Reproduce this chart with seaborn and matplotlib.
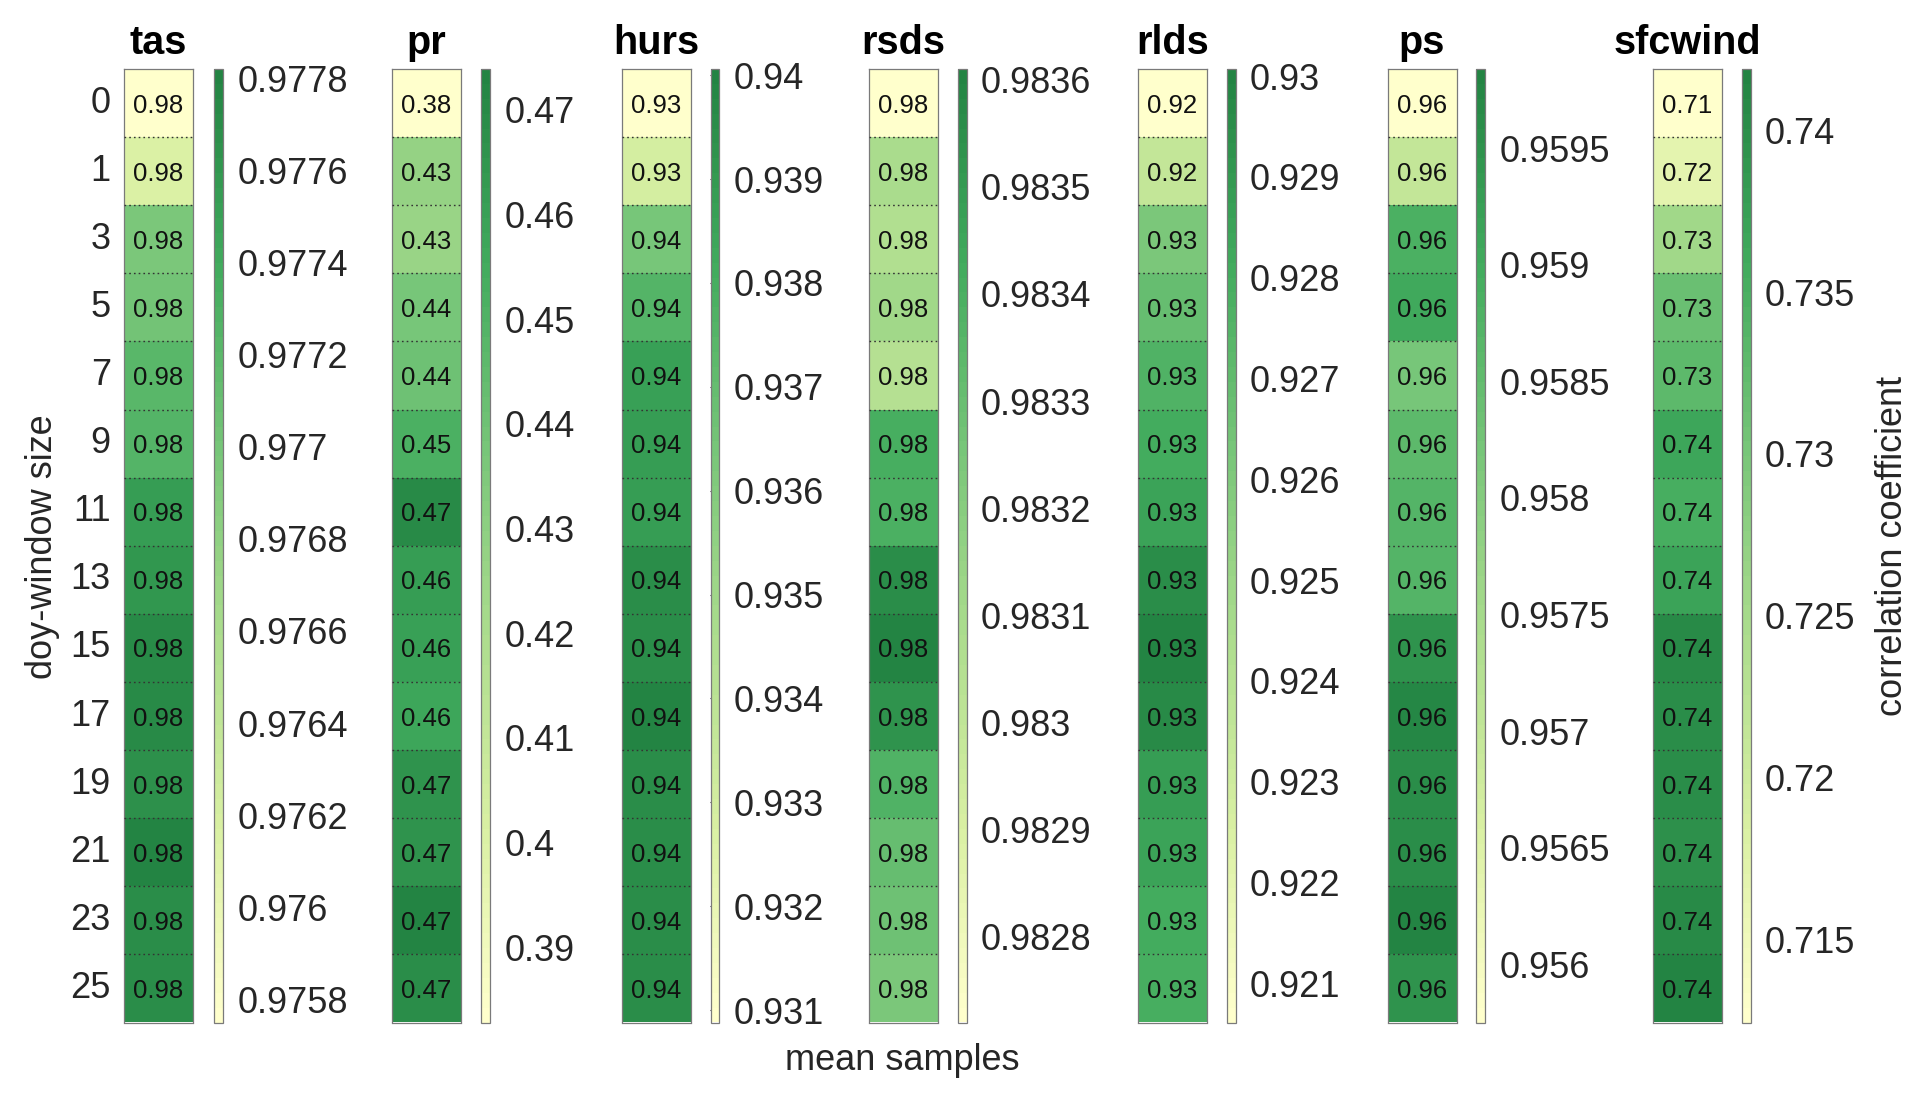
import numpy as np
import pandas as pd
import seaborn as sns
import matplotlib.pyplot as plt
from matplotlib.colors import LinearSegmentedColormap

# doy-window sizes (rows)
sizes = [0, 1, 3, 5, 7, 9, 11, 13, 15, 17, 19, 21, 23, 25]
variables = ["tas", "pr", "hurs", "rsds", "rlds", "ps", "sfcwind"]

# correlation coefficients
tas = [0.97575, 0.97616, 0.97695, 0.97704, 0.97723, 0.97725, 0.97755,
       0.97761, 0.97773, 0.97775, 0.97769, 0.97782, 0.97771, 0.97772]
pr = [0.3828, 0.428, 0.426, 0.438, 0.441, 0.452, 0.470,
      0.462, 0.460, 0.458, 0.466, 0.466, 0.4739, 0.469]
hurs = [0.93088, 0.93290, 0.93639, 0.93749, 0.93868, 0.93877, 0.93887,
        0.93960, 0.93951, 0.94006, 0.93951, 0.93955, 0.93951, 0.93955]
rsds = [0.98272, 0.98309, 0.98306, 0.98311, 0.98305, 0.98341, 0.98340,
        0.98356, 0.98361, 0.98354, 0.98338, 0.98331, 0.98329, 0.98324]
rlds = [0.92061, 0.92345, 0.92610, 0.92685, 0.92761, 0.92808, 0.92856,
        0.92950, 0.93007, 0.92969, 0.92884, 0.92846, 0.92808, 0.92799]
ps = [0.95575, 0.95698, 0.95886, 0.95902, 0.95820, 0.95861, 0.95869,
      0.95870, 0.95951, 0.95972, 0.95964, 0.95959, 0.95984, 0.95951]
sfcwind = [0.71242, 0.7168, 0.7254, 0.7316, 0.7328, 0.7366, 0.7352,
           0.7369, 0.7407, 0.7401, 0.7401, 0.7400, 0.7407, 0.7419]
values = [tas, pr, hurs, rsds, rlds, ps, sfcwind]

# colorbar ticks per panel
tas_ticks = [0.9758, 0.976, 0.9762, 0.9764, 0.9766, 0.9768, 0.977, 0.9772, 0.9774, 0.9776, 0.9778]
pr_ticks = [0.39, 0.40, 0.41, 0.42, 0.43, 0.44, 0.45, 0.46, 0.47]
hurs_ticks = [0.931, 0.932, 0.933, 0.934, 0.935, 0.936, 0.937, 0.938, 0.939, 0.94]
rsds_ticks = [0.9828, 0.9829, 0.983, 0.9831, 0.9832, 0.9833, 0.9834, 0.9835, 0.9836]
rlds_ticks = [0.921, 0.922, 0.923, 0.924, 0.925, 0.926, 0.927, 0.928, 0.929, 0.93]
ps_ticks = [0.956, 0.9565, 0.957, 0.9575, 0.958, 0.9585, 0.959, 0.9595]
sfcwind_ticks = [0.715, 0.72, 0.725, 0.73, 0.735, 0.74]
ticks = [tas_ticks, pr_ticks, hurs_ticks, rsds_ticks, rlds_ticks, ps_ticks, sfcwind_ticks]

sns.set_theme(style="white")
plt.rcParams["font.family"] = ["Liberation Sans", "DejaVu Sans"]

W, H = 1927, 1107
fig = plt.figure(figsize=(W / 100, H / 100), dpi=100)

cmap = LinearSegmentedColormap.from_list(
    "ylgn", ["#ffffcc", "#d9f0a3", "#addd8e", "#78c679", "#41ab5d", "#238443"], N=64)

hm_left = [124, 392, 622, 869, 1138, 1387.5, 1653]
cb_left = [214, 481, 710.5, 957.5, 1226.5, 1476, 1741.5]
top, bottom = 69, 1022.5
txt = "#262626"

for i, name in enumerate(variables):
    ax = fig.add_axes([hm_left[i] / W, 1 - bottom / H, 69 / W, (bottom - top) / H])
    cax = fig.add_axes([cb_left[i] / W, 1 - bottom / H, 9 / W, (bottom - top) / H])
    df = pd.DataFrame({name: values[i]}, index=sizes)
    sns.heatmap(df, ax=ax, cbar_ax=cax, cmap=cmap,
                vmin=min(values[i]), vmax=max(values[i]),
                annot=True, fmt=".2f",
                annot_kws={"size": 18.5, "color": "#111111", "va": "center_baseline"},
                xticklabels=False, yticklabels=(i == 0),
                cbar_kws={"ticks": ticks[i]})
    ax.set_ylabel("")
    ax.set_title(name, fontsize=28.5, fontweight="bold", color="black", pad=11)
    # dotted separators between cells
    ax.set_axisbelow(False)
    ax.set_yticks(np.arange(1, len(sizes)), minor=True)
    ax.grid(which="minor", axis="y", ls=(0, (1.2, 2.2)), color="#333333", lw=1.0)
    ax.tick_params(which="both", length=0)
    ax.tick_params(axis="y", pad=9.5, labelsize=26, labelcolor=txt, labelrotation=0)
    for s in ax.spines.values():
        s.set_visible(True)
        s.set_color("#7a7a7a")
        s.set_linewidth(0.9)

    cbar = ax.collections[0].colorbar
    cbar.outline.set_edgecolor("#7a7a7a")
    cbar.outline.set_linewidth(0.9)
    cax.tick_params(right=True, direction="in", length=6.5, width=0.8, pad=10.5,
                    labelsize=26, colors=txt)
    cax.set_yticks(ticks[i])
    cax.set_yticklabels([f"{t:g}" for t in ticks[i]])

fig.text(43 / W, 1 - 547 / H, "doy-window size", rotation=90,
         ha="center", va="center", fontsize=26, color=txt)
fig.text(902 / W, 1 - 1061 / H, "mean samples",
         ha="center", va="center", fontsize=26, color=txt)
fig.text(1893 / W, 1 - 546 / H, "correlation coefficient", rotation=90,
         ha="center", va="center", fontsize=26, color=txt)

fig.savefig("out.png", dpi=100)
